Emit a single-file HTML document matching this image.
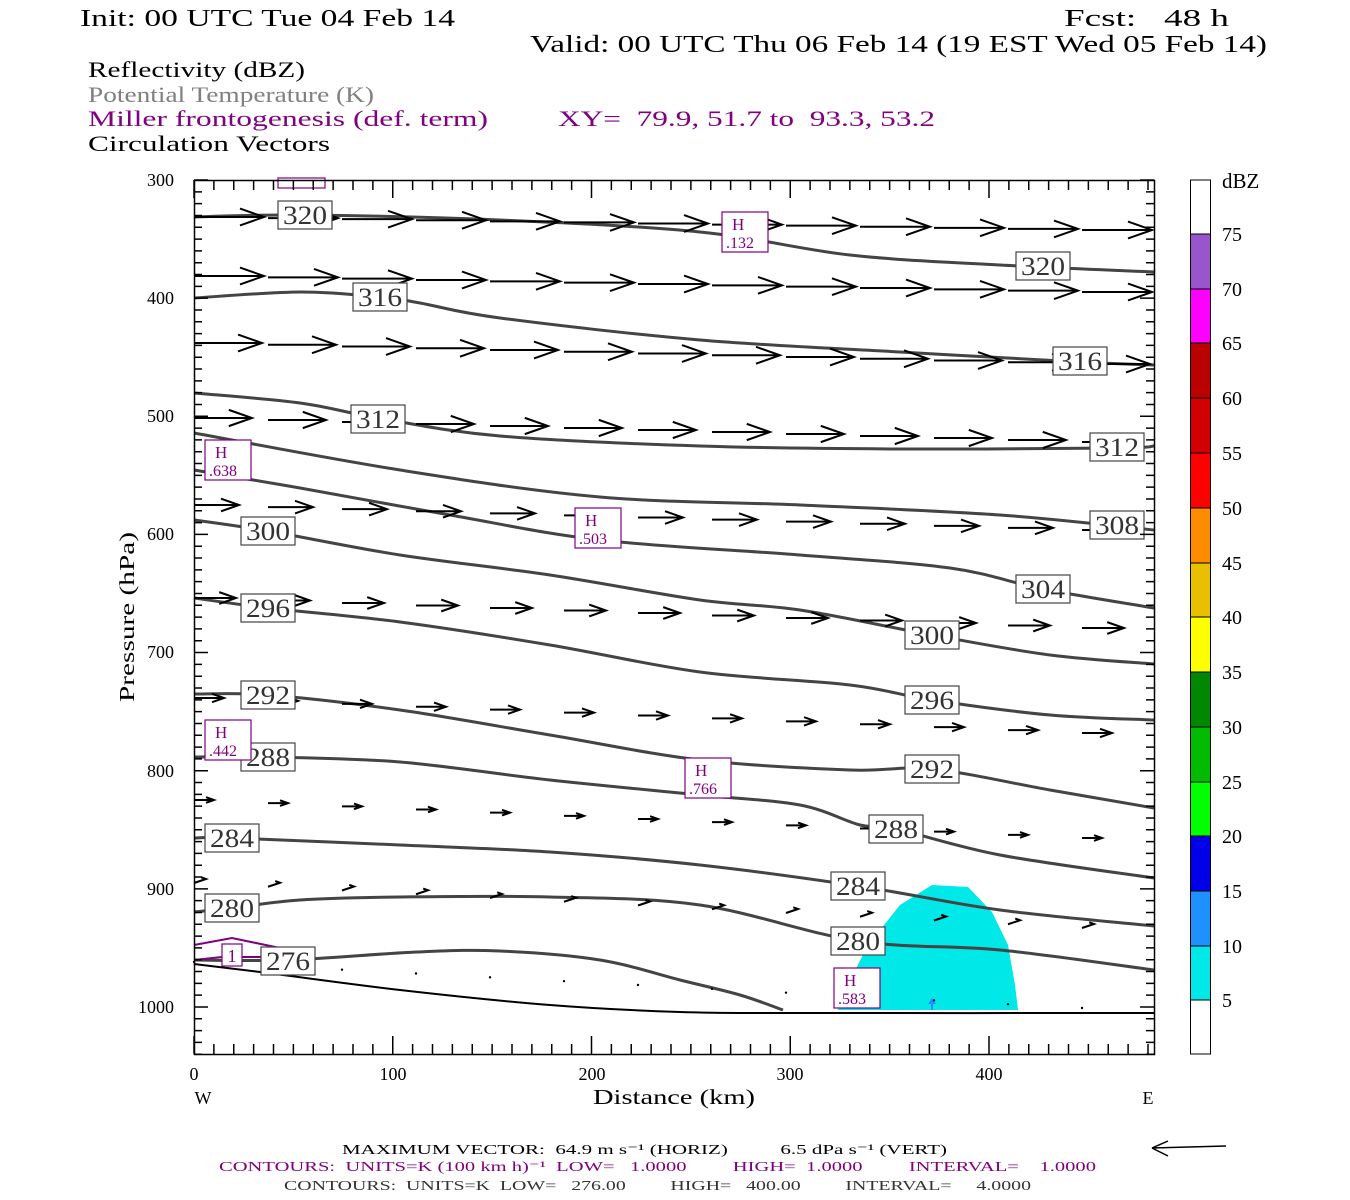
<!DOCTYPE html>
<html><head><meta charset="utf-8"><style>
body{margin:0;background:#fff}
svg{display:block}
text{font-family:"Liberation Serif",serif;white-space:pre;}
</style></head><body>
<svg id="s" width="1350" height="1200" xmlns="http://www.w3.org/2000/svg" xml:space="preserve">
<rect width="1350" height="1200" fill="#fff"/>
<g font-size="24" fill="#000">
<text x="80" y="26" textLength="375" lengthAdjust="spacingAndGlyphs">Init: 00 UTC Tue 04 Feb 14</text>
<text x="1064" y="26" textLength="165" lengthAdjust="spacingAndGlyphs">Fcst:   48 h</text>
<text x="530" y="52" textLength="737" lengthAdjust="spacingAndGlyphs">Valid: 00 UTC Thu 06 Feb 14 (19 EST Wed 05 Feb 14)</text>
</g>
<g font-size="22">
<text x="88" y="77" textLength="217" lengthAdjust="spacingAndGlyphs">Reflectivity (dBZ)</text>
<text x="88" y="102" fill="#808080" textLength="286" lengthAdjust="spacingAndGlyphs">Potential Temperature (K)</text>
<text x="88" y="126" fill="#800080" textLength="400" lengthAdjust="spacingAndGlyphs">Miller frontogenesis (def. term)</text>
<text x="558" y="126" fill="#800080" textLength="377" lengthAdjust="spacingAndGlyphs">XY=  79.9, 51.7 to  93.3, 53.2</text>
<text x="88" y="151" textLength="242" lengthAdjust="spacingAndGlyphs">Circulation Vectors</text>
</g>
<path d="M838,1010 L845,990 L868,945 L900,905 L932,885 L968,887 L992,912 L1008,945 L1015,985 L1018,1010 Z" fill="#00e8e8"/>
<path d="M932,1010 L932,1002" stroke="#1e90ff" stroke-width="2"/><path d="M928,1004 L932,998 L936,1004Z" fill="#1e90ff"/>
<g id="contours" fill="none" stroke="#444" stroke-width="3" stroke-linejoin="round"></g>
<g id="arrows" stroke="#000" stroke-width="2" fill="none"></g>
<path d="M194,945 L232,938 L280,948" stroke="#800080" stroke-width="2" fill="none"/>
<path d="M194,960 L222,957 L260,957 L280,948" stroke="#800080" stroke-width="2" fill="none"/>
<g id="labels"></g>
<g id="ticks" stroke="#000" stroke-width="1.5"></g>
<rect x="194.5" y="180.5" width="960" height="874" fill="none" stroke="#000" stroke-width="1.5"/>
<g font-size="18" text-anchor="end">
<text x="174" y="186">300</text><text x="174" y="304">400</text><text x="174" y="422">500</text><text x="174" y="540">600</text><text x="174" y="658">700</text><text x="174" y="777">800</text><text x="174" y="895">900</text><text x="174" y="1013">1000</text>
</g>
<g font-size="18" text-anchor="middle">
<text x="194" y="1080">0</text><text x="393" y="1080">100</text><text x="592" y="1080">200</text><text x="790" y="1080">300</text><text x="989" y="1080">400</text>
<text x="203" y="1104">W</text><text x="1148" y="1104">E</text>
<text x="674" y="1104" font-size="21" textLength="162" lengthAdjust="spacingAndGlyphs">Distance (km)</text>
<text transform="translate(134,617) rotate(-90)" font-size="21" textLength="170" lengthAdjust="spacingAndGlyphs">Pressure (hPa)</text>
</g>
<g id="cb"></g>
<g font-size="14">
<text x="342" y="1154" textLength="605" lengthAdjust="spacingAndGlyphs">MAXIMUM VECTOR:  64.9 m s⁻¹ (HORIZ)          6.5 dPa s⁻¹ (VERT)</text>
<text x="219" y="1171" fill="#800080" textLength="877" lengthAdjust="spacingAndGlyphs">CONTOURS:  UNITS=K (100 km h)⁻¹  LOW=   1.0000         HIGH=  1.0000         INTERVAL=    1.0000</text>
<text x="284" y="1190" fill="#333" textLength="747" lengthAdjust="spacingAndGlyphs">CONTOURS:  UNITS=K  LOW=   276.00         HIGH=   400.00         INTERVAL=     4.0000</text>
</g>
<path d="M1152,1148 L1226,1146 M1152,1148 L1168,1141 M1152,1148 L1168,1156" stroke="#000" stroke-width="1.5" fill="none"/>
</svg>
<script>
const NS="http://www.w3.org/2000/svg";
function el(p,t,a,txt){const e=document.createElementNS(NS,t);for(const k in a)e.setAttribute(k,a[k]);if(txt!=null)e.textContent=txt;document.getElementById(p).appendChild(e);return e;}
function sm(P){let d="M"+P[0].join(",");for(let i=0;i<P.length-1;i++){const p0=P[Math.max(0,i-1)],p1=P[i],p2=P[i+1],p3=P[Math.min(P.length-1,i+2)];
const c1=[p1[0]+(p2[0]-p0[0])/6,p1[1]+(p2[1]-p0[1])/6],c2=[p2[0]-(p3[0]-p1[0])/6,p2[1]-(p3[1]-p1[1])/6];
d+=` C${c1[0]},${c1[1]} ${c2[0]},${c2[1]} ${p2[0]},${p2[1]}`;}return d;}
const C=[
[[194,217],[300,215],[500,220],[700,232],[850,255],[1000,265],[1154,272]],
[[194,298],[300,292],[380,297],[420,303],[500,318],[700,340],[900,352],[1080,362],[1154,365]],
[[194,393],[300,403],[378,418],[500,436],[700,446],[900,449],[1117,448],[1154,446]],
[[194,433],[400,470],[600,497],[800,505],[1000,515],[1154,530]],
[[194,470],[300,488],[450,515],[600,540],[800,555],[950,568],[1043,589],[1154,608]],
[[194,520],[268,531],[400,555],[550,575],[700,600],[800,610],[932,635],[1050,655],[1154,664]],
[[194,598],[268,608],[400,622],[550,645],[700,672],[850,685],[932,700],[1050,715],[1154,720]],
[[194,694],[268,695],[400,710],[550,735],[700,760],[850,770],[932,769],[1050,790],[1154,808]],
[[194,757],[268,757],[400,762],[550,780],[700,795],[800,805],[860,825],[896,829],[1000,855],[1154,878]],
[[194,838],[232,838],[400,845],[550,852],[700,865],[858,886],[1000,910],[1154,926]],
[[194,912],[232,908],[300,900],[400,897],[550,897],[700,905],[858,941],[1000,950],[1154,970]],
[[194,960],[288,960],[417,952],[500,951],[600,960],[680,980],[740,995],[783,1010]]];
C.forEach(c=>el("contours","path",{d:sm(c)}));
el("contours","path",{d:sm([[194,964],[260,972],[400,990],[550,1005],[680,1012],[800,1013],[1154,1013]]),stroke:"#000","stroke-width":2});
const cols=[194,268,342,416,490,564,638,712,786,860,934,1008,1082];
const rows=[[217,230,70],[276,292,70],[343,364,68],[418,442,58],[505,530,45],[598,628,42],[698,733,30],[800,838,20],[883,928,12],[962,1008,3]];
rows.forEach((r,i)=>{cols.forEach((x,j)=>{const y=r[0]+(r[1]-r[0])*j/12;let L=r[2];let dy=i==8?-4:0;
const x2=x+L,y2=y+dy;
if(L<5){el("arrows","circle",{cx:x,cy:y,r:1.2,fill:"#000",stroke:"none"});return;}
const h=Math.min(24,L*0.4);
el("arrows","path",{d:`M${x},${y} L${x2},${y2} M${x2-h},${y2-h*0.35} L${x2},${y2} L${x2-h},${y2+h*0.35}`});});});
const L=[[305,215,"320"],[380,297,"316"],[378,419,"312"],[268,531,"300"],[268,608,"296"],[268,695,"292"],[268,757,"288"],[232,838,"284"],[232,908,"280"],[288,961,"276"],
[1043,266,"320"],[1080,361,"316"],[1117,447,"312"],[1117,525,"308"],[1043,589,"304"],[932,635,"300"],[932,700,"296"],[932,769,"292"],[896,829,"288"],[858,886,"284"],[858,941,"280"]];
L.forEach(l=>{el("labels","rect",{x:l[0]-27,y:l[1]-14,width:54,height:28,fill:"#fff",stroke:"#444","stroke-width":1.2});
el("labels","text",{x:l[0],y:l[1]+9,"font-size":26,"text-anchor":"middle",fill:"#333",textLength:44,lengthAdjust:"spacingAndGlyphs"},l[2]);});
const H=[[205,440,".638"],[575,508,".503"],[722,212,".132"],[205,720,".442"],[685,758,".766"],[834,968,".583"]];
H.forEach(h=>{el("labels","rect",{x:h[0],y:h[1],width:46,height:40,fill:"#fff",stroke:"#800080","stroke-width":1.2});
el("labels","text",{x:h[0]+10,y:h[1]+18,"font-size":17,fill:"#800080"},"H");
el("labels","text",{x:h[0]+4,y:h[1]+36,"font-size":16,fill:"#800080"},h[2]);});
el("labels","rect",{x:278,y:178,width:47,height:10,fill:"#fff",stroke:"#800080","stroke-width":1.2});
el("labels","rect",{x:222,y:944,width:20,height:22,fill:"#fff",stroke:"#800080","stroke-width":1.2});
el("labels","text",{x:232,y:962,"font-size":18,"text-anchor":"middle",fill:"#800080"},"1");
for(let p=300;p<=1040;p+=10){const y=180+(p-300)*1.1814;const big=p%100==0;const w=big?14:8;
el("ticks","path",{d:`M194,${y} L${194+w},${y} M1154,${y} L${1154-w},${y}`});}
for(let k=0;k<=480;k+=10){const x=194+k*1.9875;const big=k%100==0;const w=big?18:10;
el("ticks","path",{d:`M${x},1054 L${x},${1054-w} M${x},180 L${x},${180+w}`});}
const cols2=["#ffffff","#9955cc","#ff00ff","#bb0000","#d20000","#ff0000","#ff8c00","#e8c000","#ffff00","#008800","#00bb00","#00ff00","#0000e8","#1e90ff","#00e8e8","#ffffff"];
const ys=[180,234,289,343,398,453,508,563,617,672,727,782,836,891,946,1000,1054];
cols2.forEach((c,i)=>el("cb","rect",{x:1190.5,y:ys[i],width:20,height:ys[i+1]-ys[i],fill:c,stroke:"#000","stroke-width":1}));
el("cb","text",{x:1222,y:188,"font-size":21},"dBZ");
[75,70,65,60,55,50,45,40,35,30,25,20,15,10,5].forEach((v,i)=>el("cb","text",{x:1222,y:ys[i+1]+7,"font-size":20},String(v)));
</script>
</body></html>
